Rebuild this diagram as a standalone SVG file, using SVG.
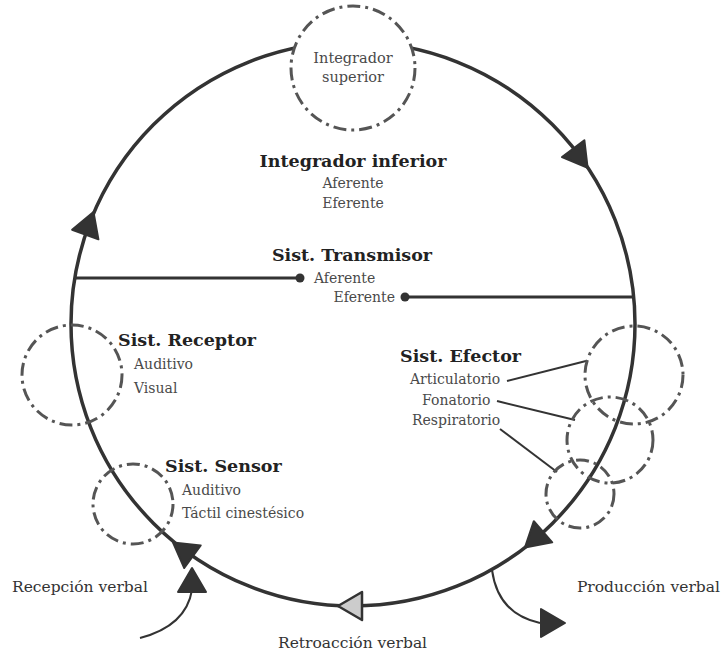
<svg xmlns="http://www.w3.org/2000/svg" xmlns:xlink="http://www.w3.org/1999/xlink" width="723" height="653" viewBox="0 0 723 653">
<defs>
<style>
.main{fill:none;stroke:#333;stroke-width:3.5}
.dash{fill:none;stroke:#555;stroke-width:3;stroke-dasharray:13 5 3 5}
.line{fill:none;stroke:#333;stroke-width:3}
.thin{fill:none;stroke:#333;stroke-width:2}
.head{fill:#333;stroke:#333;stroke-width:2;stroke-linejoin:round}
.headg{fill:#ccc;stroke:#333;stroke-width:2.5;stroke-linejoin:round}
.t{font-family:"DejaVu Serif","Liberation Serif",serif;font-size:14px;fill:#4a4a4a}
.b{font-family:"DejaVu Serif","Liberation Serif",serif;font-size:17.5px;font-weight:bold;fill:#222}
.l{font-family:"DejaVu Serif","Liberation Serif",serif;font-size:15.5px;fill:#333}
</style>
<path id="tri" d="M16,0 L-8,-14 L-8,14 Z"/>
</defs>
<rect width="723" height="653" fill="#fff"/>
<g id="connectors">
<circle class="main" cx="353" cy="324" r="282"/>
<line class="line" x1="75" y1="278" x2="300" y2="278"/>
<circle cx="300" cy="278" r="4.5" fill="#333"/>
<line class="line" x1="405" y1="297" x2="634" y2="297"/>
<circle cx="405" cy="297" r="4.5" fill="#333"/>
<line class="thin" x1="507" y1="381" x2="586" y2="361"/>
<line class="thin" x1="497" y1="401" x2="575" y2="420"/>
<line class="thin" x1="500" y1="429" x2="557" y2="472"/>
<path class="thin" d="M140,638 Q186,626 192,590"/>
<path class="thin" d="M492,570 Q498,614 540,623"/>
<use xlink:href="#tri" class="head" transform="translate(578,155) rotate(53)"/>
<use xlink:href="#tri" class="head" transform="translate(88,227) rotate(-70)"/>
<use xlink:href="#tri" class="head" transform="translate(537,537) rotate(139)"/>
<use xlink:href="#tri" class="head" transform="translate(186,552) rotate(216)"/>
<use xlink:href="#tri" class="headg" transform="translate(354,606) rotate(180)"/>
<use xlink:href="#tri" class="head" transform="translate(192,584) rotate(-90)"/>
<use xlink:href="#tri" class="head" transform="translate(549,623)"/>
</g>
<g id="integrador-superior">
<circle class="dash" cx="353" cy="68" r="62" style="fill:#fff"/>
<text class="t" x="353" y="63" text-anchor="middle" style="font-size:14.5px">Integrador</text>
<text class="t" x="353" y="82" text-anchor="middle" style="font-size:14.5px">superior</text>
</g>
<g id="integrador-inferior">
<text class="b" x="353" y="167" text-anchor="middle">Integrador inferior</text>
<text class="t" x="353" y="188" text-anchor="middle">Aferente</text>
<text class="t" x="353" y="208" text-anchor="middle">Eferente</text>
</g>
<g id="transmisor">
<text class="b" x="352" y="261" text-anchor="middle">Sist. Transmisor</text>
<text class="t" x="314" y="283">Aferente</text>
<text class="t" x="395" y="302" text-anchor="end">Eferente</text>
</g>
<g id="receptor">
<circle class="dash" cx="72" cy="375" r="50"/>
<text class="b" x="118" y="346">Sist. Receptor</text>
<text class="t" x="134" y="369">Auditivo</text>
<text class="t" x="134" y="393">Visual</text>
</g>
<g id="efector">
<circle class="dash" cx="634" cy="375" r="49"/>
<circle class="dash" cx="610" cy="440" r="43"/>
<circle class="dash" cx="580" cy="494" r="34"/>
<text class="b" x="400" y="362">Sist. Efector</text>
<text class="t" x="410" y="384">Articulatorio</text>
<text class="t" x="422" y="405">Fonatorio</text>
<text class="t" x="412" y="425">Respiratorio</text>
</g>
<g id="sensor">
<circle class="dash" cx="133" cy="504" r="40"/>
<text class="b" x="165" y="472">Sist. Sensor</text>
<text class="t" x="182" y="495">Auditivo</text>
<text class="t" x="182" y="518">Táctil cinestésico</text>
</g>
<g id="recepcion">
<text class="l" x="12" y="592">Recepción verbal</text>
</g>
<g id="retroaccion">
<text class="l" x="278" y="648">Retroacción verbal</text>
</g>
<g id="produccion">
<text class="l" x="720" y="592" text-anchor="end">Producción verbal</text>
</g>
</svg>
